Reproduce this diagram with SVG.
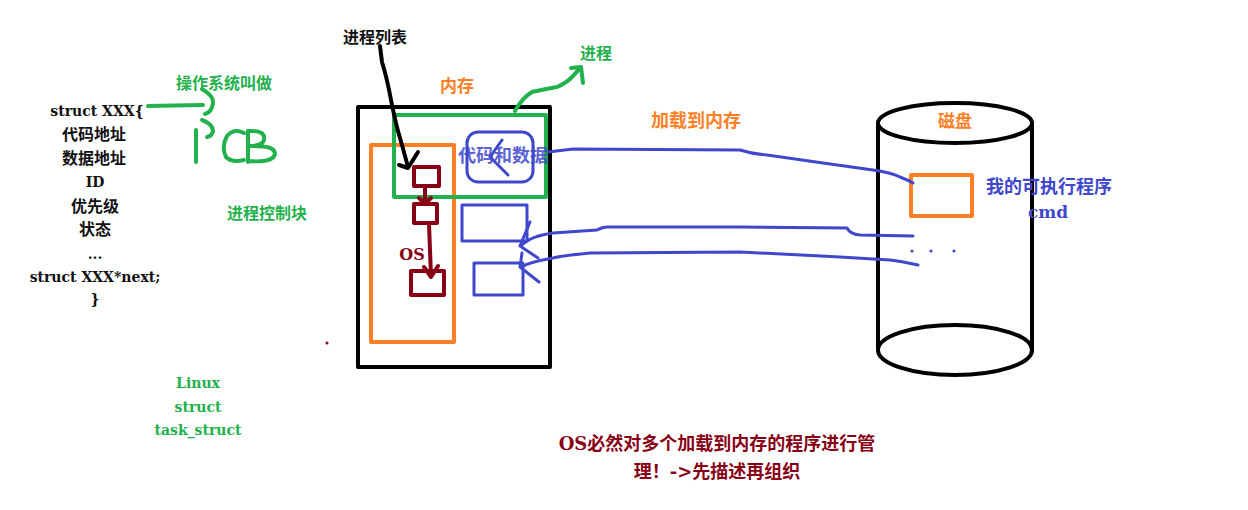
<svg xmlns="http://www.w3.org/2000/svg" width="1248" height="510" viewBox="0 0 1248 510">
<style>
text{font-family:"DejaVu Serif","Noto Sans CJK SC",serif;text-anchor:middle;dominant-baseline:central;font-weight:bold}
.k{fill:#111}
.g{fill:#22b14c}
.o{fill:#ff7f27}
.b{fill:#3f48cc}
.r{fill:#880015}
.s{fill:none;stroke-linecap:round;stroke-linejoin:round}
.sk{stroke:#000;stroke-width:4}
.sg{stroke:#22b14c;stroke-width:4}
.so{stroke:#ff7f27;stroke-width:4}
.sb{stroke:#3f48cc;stroke-width:3}
.sr{stroke:#880015;stroke-width:4}
</style>
<rect width="1248" height="510" fill="#fff"/>

<g id="pcb-struct">
<text x="97" y="111" class="k" font-size="14">struct XXX{</text>
<text x="94" y="134" class="k" font-size="16">代码地址</text>
<text x="94" y="158" class="k" font-size="16">数据地址</text>
<text x="95" y="182" class="k" font-size="14">ID</text>
<text x="95" y="206" class="k" font-size="16">优先级</text>
<text x="95" y="229" class="k" font-size="16">状态</text>
<text x="95" y="254" class="k" font-size="14">...</text>
<text x="95" y="277" class="k" font-size="14">struct XXX*next;</text>
<text x="95" y="299" class="k" font-size="14">}</text>
</g>

<g id="pcb-label">
<text x="224" y="83" class="g" font-size="16">操作系统叫做</text>
<path class="s sg" d="M148 106 L203 105"/>
<path class="s sg" d="M202 89 Q214 96 213 103 Q212 112 205 114"/>
<path class="s sg" d="M202 120 Q213 124 213 131 Q212 136 207 137"/>
<path class="s sg" d="M196 130 L196 162"/>
<path class="s sg" d="M244 133 Q234 128 227 136 Q221 147 226 157 Q232 163 244 160"/>
<path class="s sg" d="M248 131 L248 162 M248 131 Q266 130 264 140 Q262 146 250 146 Q275 145 275 154 Q273 163 248 161"/>
<text x="267" y="213" class="g" font-size="16">进程控制块</text>
</g>

<g id="linux-label">
<text x="198" y="383" class="g" font-size="14">Linux</text>
<text x="198" y="407" class="g" font-size="14">struct</text>
<text x="198" y="430" class="g" font-size="14">task_struct</text>
</g>

<circle cx="327" cy="343" r="1.5" fill="#880015"/>

<g id="memory">
<text x="457" y="86" class="o" font-size="17">内存</text>
<rect x="358" y="107" width="192" height="260" class="s sk" stroke-width="5"/>
</g>

<g id="os-region">
<rect x="371" y="145" width="83" height="197" class="s so"/>
<text x="412" y="254" class="r" font-size="16">OS</text>
</g>

<g id="pcb1"><rect x="414" y="167" width="25" height="19" class="s sr"/></g>
<g id="pcb2"><rect x="414" y="204" width="23" height="19" class="s sr"/></g>
<g id="pcb3"><rect x="411" y="271" width="33" height="24" class="s sr"/></g>

<g id="process">
<rect x="394" y="115" width="152" height="82" class="s sg"/>
<text x="596" y="53" class="g" font-size="16">进程</text>
</g>

<g id="code-data">
<rect x="467" y="132" width="66" height="50" rx="11" class="s sb"/>
<text x="503" y="155" class="b" font-size="18" opacity="0.85">代码和数据</text>
</g>

<g id="prog2"><rect x="462" y="205" width="65" height="36" class="s sb"/></g>
<g id="prog3"><rect x="474" y="263" width="49" height="32" class="s sb"/></g>

<g id="disk">
<ellipse cx="955" cy="123" rx="77" ry="20" class="s sk"/>
<path class="s sk" d="M878 123 L878 348 M1032 123 L1032 350"/>
<ellipse cx="955" cy="350" rx="77" ry="25" class="s sk"/>
<text x="955" y="121" class="o" font-size="17">磁盘</text>
</g>

<g id="exe">
<rect x="911" y="175" width="61" height="41" class="s so"/>
<text x="1049" y="186" class="b" font-size="18">我的可执行程序</text>
<text x="1048" y="212" class="b" font-size="17">cmd</text>
</g>

<g id="dots" fill="#3f48cc">
<circle cx="912" cy="251" r="1.6"/><circle cx="931" cy="251" r="1.6"/><circle cx="954" cy="251" r="1.6"/>
</g>

<text x="696" y="120" class="o" font-size="18">加载到内存</text>

<text x="717" y="443" class="r" font-size="18">OS必然对多个加载到内存的程序进行管</text>
<text x="717" y="471" class="r" font-size="18">理！-&gt;先描述再组织</text>

<g id="connectors">
<text x="375" y="37" class="k" font-size="16">进程列表</text>
<path class="s sk" stroke-width="3" d="M380 46 L382 62 Q387 78 391 100 Q396 125 400 138 Q404 152 408 167"/>
<path class="s sk" stroke-width="3" d="M399 165 L408 168 L418 152"/>
<path class="s sr" stroke-width="3" d="M425 187 L425 203 M419 198 L425 204 L431 198"/>
<path class="s sr" stroke-width="3" d="M429 224 L431 276 M424 267 L431 277 L438 266"/>
<path class="s sg" stroke-width="3" d="M515 111 Q522 98 532 92 Q545 89 557 87 Q566 83 571 78 Q576 73 580 68"/>
<path class="s sg" stroke-width="3" d="M571 68 L581 67 L583 83"/>
<path class="s sb" d="M548 152 L573 149 L740 150 Q752 154 767 155 L823 163 L873 170 Q893 173 900 177 Q908 180 913 183"/>
<path class="s sb" d="M502 140 L490 157 L508 175"/>
<path class="s sb" d="M913 236 L860 235 Q850 234 847 228 L740 227 L607 227 Q600 228 597 230 L553 233 Q530 236 521 246"/>
<path class="s sb" d="M530 222 L520 246 L538 258"/>
<path class="s sb" d="M918 265 Q900 261 890 260 L840 257 L740 252 L590 253 Q560 256 553 258 Q530 262 521 267"/>
<path class="s sb" d="M522 253 L520 267 L539 282"/>
</g>
</svg>
